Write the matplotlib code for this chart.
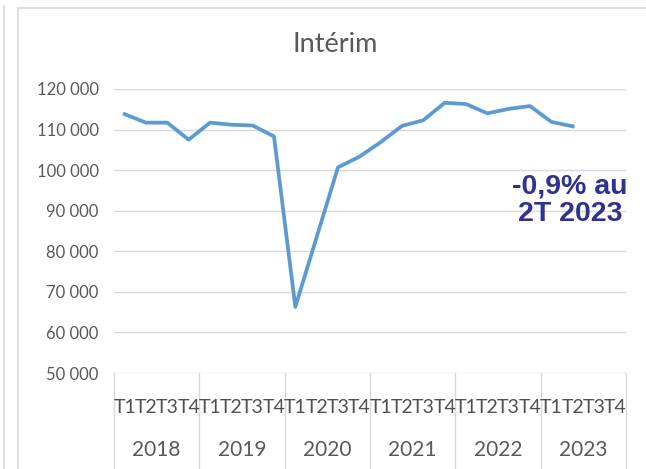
import matplotlib
matplotlib.use('Agg')
import matplotlib.pyplot as plt
import numpy as np
from matplotlib.lines import Line2D

plt.rcParams['font.family'] = ['Lato', 'DejaVu Sans']

# Data
years = ['2018', '2019', '2020', '2021', '2022', '2023']
quarters = ['T1', 'T2', 'T3', 'T4'] * len(years)
interim = [113800, 111700, 111700, 107500,
           111700, 111200, 111000, 108300,
           66300, 83500, 100700, 103300,
           106900, 110900, 112300, 116600,
           116300, 114000, 115100, 115800,
           111900, 110800, np.nan, np.nan]
y_ticks = list(range(50000, 120001, 10000))
note = '-0,9% au\n2T 2023'

grey_text = '#595959'
grid_col = '#D9D9D9'
line_col = '#5B9BD5'
note_col = '#2F3293'

W, H = 646, 469
fig = plt.figure(figsize=(W / 100, H / 100), dpi=100)
ax = fig.add_axes([114 / W, 1 - 373 / H, (626 - 114) / W, (373 - 89) / H])

# Chart frame (Excel chart area border) and neighbouring border
fig.add_artist(Line2D([18 / W, 18 / W], [0, 1 - 8 / H], color=grid_col, lw=1.2))
fig.add_artist(Line2D([18 / W, 1], [1 - 8 / H, 1 - 8 / H], color=grid_col, lw=1.2))
fig.add_artist(Line2D([3.5 / W, 3.5 / W], [0, 1 - 6 / H], color=grid_col, lw=1.2))

x = np.arange(len(interim))
ax.plot(x, interim, color=line_col, lw=2.7, solid_joinstyle='round', zorder=3)

ax.set_xlim(-0.5, len(quarters) - 0.5)
ax.set_ylim(y_ticks[0], y_ticks[-1])
ax.set_yticks(y_ticks)
ax.set_yticklabels([f'{v:,.0f}'.replace(',', ' ') for v in y_ticks])
ax.tick_params(axis='y', length=0, pad=11, labelsize=12, labelcolor=grey_text)
ax.set_xticks([])
ax.yaxis.grid(True, color=grid_col, lw=1)
ax.set_axisbelow(True)
for s in ax.spines.values():
    s.set_visible(False)

# Multi-level category axis
trans = ax.get_xaxis_transform()
for i, q in enumerate(quarters):
    ax.text(i, -0.12, q, transform=trans, ha='center', va='center',
            fontsize=14, color='#505050')
for j, yr in enumerate(years):
    ax.text(j * 4 + 1.5, -0.272, yr, transform=trans, ha='center', va='center',
            fontsize=15, color=grey_text)
for j in range(len(years) + 1):
    ax.plot([j * 4 - 0.5, j * 4 - 0.5], [0, -0.4], transform=trans,
            color=grid_col, lw=1, clip_on=False)

# Title
fig.text(335 / W, 1 - 45 / H, 'Intérim', ha='center', va='center',
         fontsize=19.5, color=grey_text)

# Annotation
ax.text(0.891, 0.609, note, transform=ax.transAxes, ha='center', va='center',
        multialignment='center', fontsize=20.5, fontweight='bold',
        family='Liberation Sans', color=note_col, linespacing=1.05)

fig.savefig('out.png', dpi=100)
